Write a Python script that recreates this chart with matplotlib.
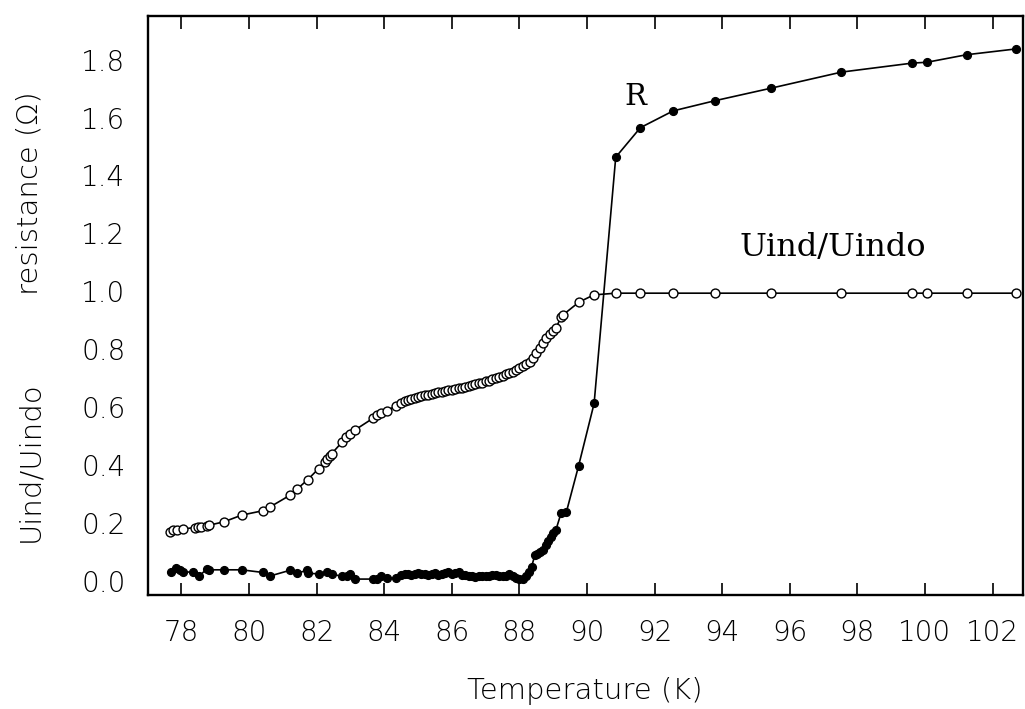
import matplotlib
matplotlib.use("Agg")
import matplotlib.pyplot as plt
from matplotlib.ticker import MultipleLocator, FormatStrFormatter

# open circles: induced voltage ratio Uind/Uindo vs temperature (K)
T_U = [77.66, 77.75, 77.87, 78.03, 78.39, 78.49, 78.59, 78.74, 78.81, 79.26,
       79.78, 80.40, 80.63, 81.20, 81.42, 81.73, 82.06, 82.24, 82.31, 82.39,
       82.44, 82.75, 82.88, 82.98, 83.13, 83.67, 83.79, 83.89, 84.07, 84.36,
       84.5, 84.6, 84.7, 84.8, 84.9, 85.0, 85.1, 85.2, 85.3, 85.4,
       85.5, 85.6, 85.7, 85.8, 85.9, 86.0, 86.1, 86.2, 86.3, 86.4,
       86.5, 86.6, 86.7, 86.8, 86.9, 87.0, 87.1, 87.2, 87.3, 87.4,
       87.5, 87.6, 87.7, 87.8, 87.9, 88.0, 88.1, 88.2, 88.3, 88.4,
       88.5, 88.6, 88.7, 88.8, 88.9, 89.0, 89.08, 89.23, 89.29, 89.76,
       90.20, 90.85, 91.58, 92.55, 93.78, 95.43, 97.53, 99.62, 100.06, 101.23,
       102.69]
U = [0.169, 0.173, 0.175, 0.178, 0.183, 0.184, 0.186, 0.189, 0.191, 0.203,
     0.226, 0.241, 0.255, 0.294, 0.316, 0.348, 0.387, 0.411, 0.419, 0.431,
     0.438, 0.478, 0.496, 0.506, 0.520, 0.561, 0.572, 0.578, 0.587, 0.604,
     0.612, 0.620, 0.624, 0.628, 0.631, 0.634, 0.637, 0.640, 0.642, 0.645,
     0.647, 0.650, 0.652, 0.654, 0.657, 0.659, 0.662, 0.664, 0.667, 0.670,
     0.672, 0.675, 0.678, 0.681, 0.684, 0.688, 0.691, 0.695, 0.699, 0.703,
     0.707, 0.712, 0.717, 0.722, 0.728, 0.734, 0.741, 0.748, 0.756, 0.770,
     0.787, 0.805, 0.822, 0.838, 0.852, 0.862, 0.872, 0.910, 0.918, 0.962,
     0.987, 0.993, 0.993, 0.993, 0.993, 0.993, 0.993, 0.993, 0.993, 0.993,
     0.993]

# filled dots: resistance R (ohm)
T_R = [77.70, 77.85, 77.95, 78.05, 78.34, 78.51, 78.74, 78.82, 79.26, 79.78,
       80.40, 80.63, 81.20, 81.42, 81.70, 81.75, 82.06, 82.31, 82.44, 82.75,
       82.90, 82.98, 83.13, 83.67, 83.79, 83.89, 84.07, 84.36,
       84.5, 84.6, 84.7, 84.8, 84.9, 85.0, 85.1, 85.2, 85.3, 85.4,
       85.5, 85.6, 85.7, 85.8, 85.9, 86.0, 86.1, 86.2, 86.3, 86.4,
       86.5, 86.6, 86.7, 86.8, 86.9, 87.0, 87.1, 87.2, 87.3, 87.4,
       87.5, 87.6, 87.7, 87.8, 87.9, 88.0, 88.1, 88.2,
       88.29, 88.36, 88.46, 88.52, 88.60, 88.70, 88.80, 88.85, 88.92, 89.00,
       89.08, 89.23, 89.39, 89.75, 90.21, 90.85, 91.58, 92.55, 93.78, 95.43,
       97.53, 99.62, 100.06, 101.23, 102.69]
R = [0.031, 0.045, 0.037, 0.031, 0.028, 0.014, 0.039, 0.037, 0.037, 0.037,
     0.028, 0.016, 0.035, 0.025, 0.035, 0.025, 0.023, 0.028, 0.023, 0.014,
     0.014, 0.023, 0.005, 0.005, 0.005, 0.014, 0.008, 0.008,
     0.020, 0.022, 0.024, 0.020, 0.023, 0.025, 0.021, 0.024, 0.018, 0.022,
     0.025, 0.020, 0.023, 0.027, 0.029, 0.021, 0.026, 0.028, 0.020, 0.018,
     0.017, 0.015, 0.012, 0.015, 0.016, 0.014, 0.014, 0.018, 0.020, 0.016,
     0.014, 0.017, 0.022, 0.014, 0.008, 0.006, 0.005, 0.016,
     0.031, 0.048, 0.089, 0.092, 0.100, 0.106, 0.123, 0.138, 0.150, 0.164,
     0.175, 0.232, 0.237, 0.396, 0.612, 1.463, 1.565, 1.623, 1.658, 1.701,
     1.757, 1.788, 1.791, 1.817, 1.837]

fig = plt.figure(figsize=(10.25, 7.09), dpi=100)
ax = fig.add_axes([0.1441, 0.1608, 0.8539, 0.8171])

ax.plot(T_R, R, "-o", color="black", lw=1.2, ms=5.6, zorder=3)
ax.plot(T_U, U, "-o", color="black", lw=1.2, ms=6.4, mfc="white",
        mec="black", mew=1.0, zorder=4)

ax.set_xlim(77.0, 102.9)
ax.set_ylim(-0.05, 1.952)

ax.xaxis.set_major_locator(MultipleLocator(2))
ax.yaxis.set_major_locator(MultipleLocator(0.2))
ax.yaxis.set_minor_locator(MultipleLocator(0.4))
ax.yaxis.set_major_formatter(FormatStrFormatter("%.1f"))
ax.tick_params(axis="x", which="major", direction="in", top=True, length=9,
               width=1.2, labelsize=20, pad=17)
ax.tick_params(axis="y", which="major", length=0, labelsize=20, pad=16)
ax.tick_params(axis="y", which="minor", direction="in", left=True, right=True,
               length=9, width=1.2)
for lab in ax.get_xticklabels() + ax.get_yticklabels():
    lab.set_fontweight("light")
for s in ax.spines.values():
    s.set_linewidth(1.7)

ax.text(91.42, 1.672, "R", family="DejaVu Serif", fontsize=21,
        ha="center", va="center")
ax.text(97.26, 1.15, "Uind/Uindo", family="DejaVu Serif", fontsize=23,
        ha="center", va="center")

fig.text(0.571, 1 - 691 / 709, "Temperature (K)", fontsize=21,
         fontweight="light", ha="center", va="center")
fig.text(30 / 1025, 1 - 193 / 709, "resistance (Ω)", fontsize=21,
         fontweight="light", rotation=90, ha="center", va="center")
fig.text(30 / 1025, 1 - 462 / 709, "Uind/Uindo", fontsize=21,
         fontweight="light", rotation=90, ha="center", va="center")

fig.savefig("out.png", dpi=100)
